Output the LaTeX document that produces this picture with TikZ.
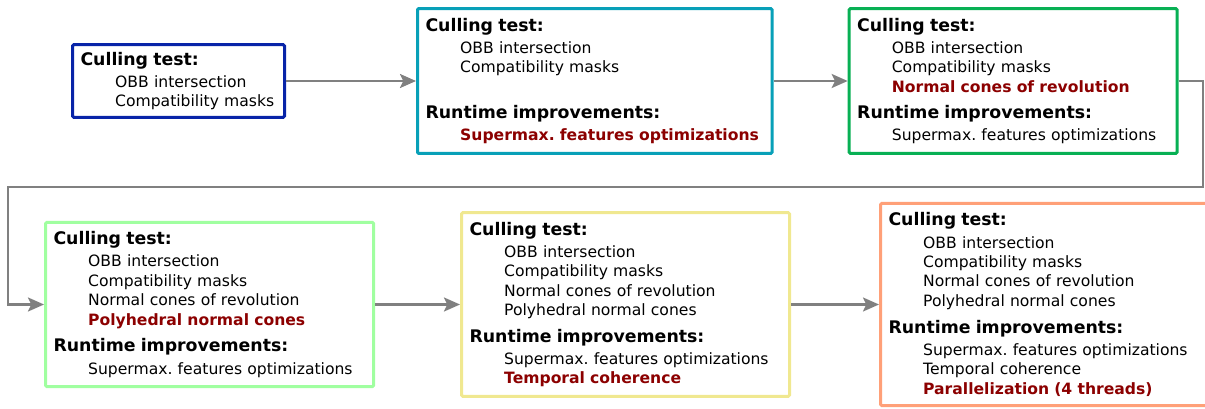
\documentclass[tikz,border=0pt]{standalone}
\usepackage{fontspec}
\setmainfont{DejaVu Sans}
\usetikzlibrary{positioning}
\usetikzlibrary{arrows.meta}
\definecolor{cullblue}{RGB}{8,36,168}
\definecolor{cullteal}{RGB}{8,160,184}
\definecolor{cullgreen}{RGB}{8,176,84}
\definecolor{culllime}{RGB}{160,255,160}
\definecolor{cullsand}{RGB}{240,232,144}
\definecolor{cullpeach}{RGB}{255,160,120}
\definecolor{newred}{RGB}{140,0,0}
\definecolor{flowgray}{RGB}{128,128,128}
\frenchspacing
\newcommand{\stagehead}[1]{{\fontsize{13}{14.6}\selectfont\bfseries #1}}
\newcommand{\stageitem}[1]{\hspace*{26pt}\mbox{#1}}
\newcommand{\stagenew}[1]{\hspace*{26pt}\mbox{\textcolor{newred}{\bfseries #1}}}
\tikzstyle{stage} = [rectangle, 
rounded corners=1pt,
line width=2.25pt,
fill=white,
align=left,
inner xsep=6pt,
inner ysep=7pt,
text width=234pt,
font=\fontsize{11.7}{14.6}\selectfont]
\tikzstyle{arrow} = [line width=1.8pt, draw=flowgray, -{Stealth[length=12pt,width=10.5pt,inset=2.5pt]}]

\begin{document}
\begin{tikzpicture}[x=0.75pt, y=-0.75pt]
            \useasboundingbox (0,0) rectangle (1205,409);
            \node (stage1) [stage, draw=cullblue, text width=147pt, inner ysep=5.5pt, anchor=west] at (71,81) {\stagehead{Culling test:}\\[2pt] \stageitem{OBB intersection}\\ \stageitem{Compatibility masks}};
            \node (stage2) [stage, draw=cullteal, text width=254pt, right=97.5pt of stage1] {\stagehead{Culling test:}\\[2pt] \stageitem{OBB intersection}\\ \stageitem{Compatibility masks}\\[20pt] \stagehead{Runtime improvements:}\\[2pt] \stagenew{Supermax. features optimizations}};
            \node (stage3) [stage, draw=cullgreen, right=55.5pt of stage2] {\stagehead{Culling test:}\\[2pt] \stageitem{OBB intersection}\\ \stageitem{Compatibility masks}\\ \stagenew{Normal cones of revolution}\\[5.4pt] \stagehead{Runtime improvements:}\\[2pt] \stageitem{Supermax. features optimizations}};
            \node (stage4) [stage, draw=culllime, anchor=west] at (44,304.5) {\stagehead{Culling test:}\\[2pt] \stageitem{OBB intersection}\\ \stageitem{Compatibility masks}\\ \stageitem{Normal cones of revolution}\\ \stagenew{Polyhedral normal cones}\\[5.4pt] \stagehead{Runtime improvements:}\\[2pt] \stageitem{Supermax. features optimizations}};
            \node (stage5) [stage, draw=cullsand, right=63.75pt of stage4] {\stagehead{Culling test:}\\[2pt] \stageitem{OBB intersection}\\ \stageitem{Compatibility masks}\\ \stageitem{Normal cones of revolution}\\ \stageitem{Polyhedral normal cones}\\[5.4pt] \stagehead{Runtime improvements:}\\[2pt] \stageitem{Supermax. features optimizations}\\ \stagenew{Temporal coherence}};
            \node (stage6) [stage, draw=cullpeach, right=66pt of stage5] {\stagehead{Culling test:}\\[2pt] \stageitem{OBB intersection}\\ \stageitem{Compatibility masks}\\ \stageitem{Normal cones of revolution}\\ \stageitem{Polyhedral normal cones}\\[5.4pt] \stagehead{Runtime improvements:}\\[2pt] \stageitem{Supermax. features optimizations}\\ \stageitem{Temporal coherence}\\ \stagenew{Parallelization (4 threads)}};
            \coordinate (turnR) at (1203,187);
            \coordinate (turnL) at (8,187);

            \draw [arrow] (stage1) -- (stage2);
            \draw [arrow] (stage2) -- (stage3);
            \draw [arrow] (stage3.east) -| (turnR) -- (turnL) |- (stage4.west);
            \draw [arrow] (stage4) -- (stage5);
            \draw [arrow] (stage5) -- (stage6);
        \end{tikzpicture}
\end{document}
